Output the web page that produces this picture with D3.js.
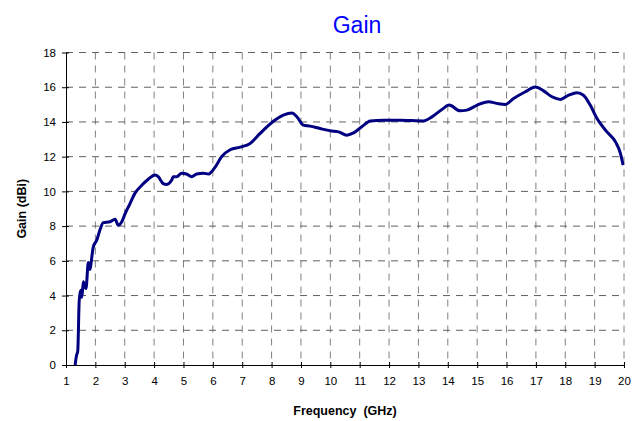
<!DOCTYPE html>
<html>
<head>
<meta charset="utf-8">
<script src="https://cdn.jsdelivr.net/npm/d3@7"></script>
<style>
  body { margin: 0; background: #fff; }
  svg text { font-family: "Liberation Sans", Arial, sans-serif; }
</style>
</head>
<body>
<div id="chart"></div>
<script>
// frequency (GHz) and gain (dBi)
const freq = [1.31, 1.36, 1.40, 1.45, 1.50, 1.54, 1.59, 1.68, 1.76, 1.82, 1.87, 1.93, 2.05, 2.16, 2.27,
  2.50, 2.67, 2.78, 2.90, 3.01, 3.18, 3.35, 3.58, 3.80, 4.03, 4.14, 4.31, 4.43, 4.60, 4.65, 4.77,
  4.94, 5.10, 5.28, 5.45, 5.68, 5.85, 6.08, 6.30, 6.59, 6.93, 7.27, 7.61, 8.01, 8.40, 8.69, 8.86,
  9.08, 9.31, 9.65, 10.00, 10.28, 10.56, 10.79, 11.07, 11.36, 11.81, 12.38, 13.17, 13.46, 13.80,
  14.05, 14.42, 14.65, 15.00, 15.39, 15.67, 15.96, 16.24, 16.64, 16.98, 17.26, 17.55, 17.83, 18.12,
  18.40, 18.62, 18.85, 19.08, 19.42, 19.71, 19.88, 19.97];
const gain = [0.0, 0.56, 0.8, 3.7, 4.3, 3.9, 4.8, 4.4, 5.9, 5.5, 6.1, 6.8, 7.2, 7.8, 8.2,
  8.25, 8.4, 8.05, 8.25, 8.7, 9.3, 9.9, 10.35, 10.7, 10.95, 10.85, 10.45, 10.4, 10.65, 10.85, 10.85,
  11.05, 11.0, 10.85, 11.0, 11.05, 11.0, 11.4, 12.0, 12.4, 12.55, 12.76, 13.34, 13.97, 14.39, 14.52, 14.3,
  13.82, 13.76, 13.62, 13.49, 13.43, 13.24, 13.37, 13.72, 14.05, 14.1, 14.1, 14.06, 14.29, 14.72,
  14.97, 14.64, 14.68, 14.97, 15.16, 15.07, 15.01, 15.35, 15.74, 16.02, 15.79, 15.45, 15.3, 15.54,
  15.68, 15.54, 14.97, 14.2, 13.43, 12.85, 12.18, 11.51];
const xTicks = d3.range(1, 21);
const yTicks = d3.range(0, 19, 2);

const width = 639, height = 421;
const margin = {top: 52.5, right: 15, bottom: 56, left: 66};

const svg = d3.select("#chart").append("svg")
    .attr("width", width)
    .attr("height", height);

const x = d3.scaleLinear().domain([1, 20]).range([margin.left, width - margin.right]);
const y = d3.scaleLinear().domain([0, 18]).range([height - margin.bottom, margin.top]);

// grid
svg.append("g")
    .selectAll("line")
    .data(xTicks.slice(1))
    .enter().append("line")
    .attr("x1", d => x(d)).attr("x2", d => x(d))
    .attr("y1", y(18)).attr("y2", y(0))
    .attr("stroke", "#808080")
    .attr("stroke-width", 1)
    .attr("stroke-dasharray", "7,6");

svg.append("g")
    .selectAll("line")
    .data(yTicks.slice(1))
    .enter().append("line")
    .attr("x1", x(1)).attr("x2", x(20))
    .attr("y1", d => y(d)).attr("y2", d => y(d))
    .attr("stroke", "#606060")
    .attr("stroke-width", 1)
    .attr("stroke-dasharray", "7,6");

// axes
const xAxis = svg.append("g")
    .attr("transform", `translate(0,${y(0)})`)
    .call(d3.axisBottom(x).tickValues(xTicks).tickSize(4).tickSizeOuter(0).tickPadding(8));
xAxis.selectAll(".tick line").attr("y1", -3).attr("y2", 3);

const yAxis = svg.append("g")
    .attr("transform", `translate(${x(1)},0)`)
    .call(d3.axisLeft(y).tickValues(yTicks).tickSize(4).tickSizeOuter(0).tickPadding(6));
yAxis.selectAll(".tick line").attr("x1", 3).attr("x2", -4);

[xAxis, yAxis].forEach(a => {
    a.select(".domain").attr("stroke", "#000");
    a.selectAll(".tick line").attr("stroke", "#000");
    a.selectAll("text").attr("font-size", 11.5).attr("fill", "#000")
        .style("font-family", "'Liberation Sans', Arial, sans-serif");
});

// data line
const line = d3.line()
    .x((d, i) => x(freq[i]))
    .y(d => y(d))
    .curve(d3.curveMonotoneX);

svg.append("path")
    .datum(gain)
    .attr("fill", "none")
    .attr("stroke", "#000080")
    .attr("stroke-width", 3)
    .attr("stroke-linejoin", "round")
    .attr("d", line);

// titles
svg.append("text")
    .attr("x", 357).attr("y", 33)
    .attr("text-anchor", "middle")
    .attr("font-size", 23)
    .attr("fill", "#0000ff")
    .text("Gain");

svg.append("text")
    .attr("x", 345).attr("y", 415)
    .attr("text-anchor", "middle")
    .attr("font-size", 12.5)
    .attr("font-weight", "bold")
    .attr("xml:space", "preserve")
    .style("white-space", "pre")
    .text("Frequency  (GHz)");

svg.append("text")
    .attr("transform", `translate(26,${y(9)}) rotate(-90)`)
    .attr("text-anchor", "middle")
    .attr("font-size", 12.5)
    .attr("font-weight", "bold")
    .text("Gain (dBi)");
</script>
</body>
</html>
